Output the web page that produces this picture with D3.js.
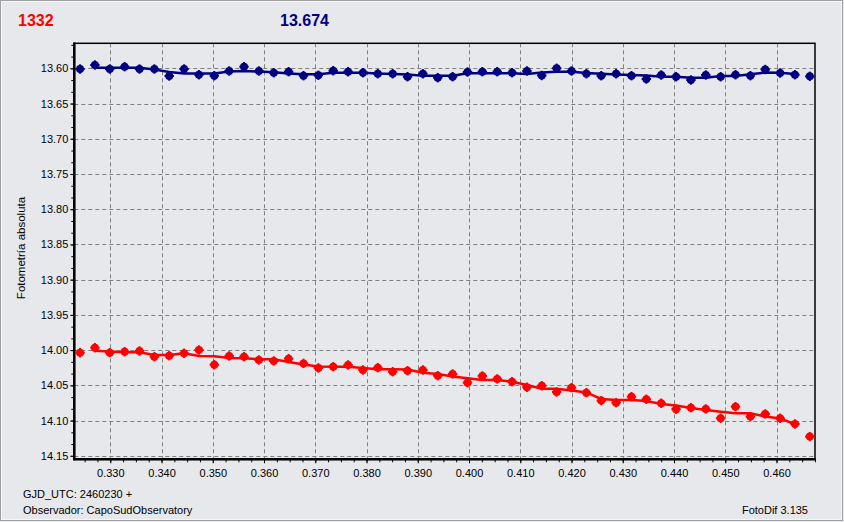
<!DOCTYPE html>
<html>
<head>
<meta charset="utf-8">
<script src="https://cdn.jsdelivr.net/npm/d3@7"></script>
<style>
  html, body { margin: 0; padding: 0; background: #e7e8eb; }
  svg { display: block; }
  text { font-family: "Liberation Sans", Arial, sans-serif; }
</style>
</head>
<body>
<svg id="chart" width="844" height="522"></svg>
<script>
// ---------- DATA ----------
const titleLeft = "1332";
const titleRight = "13.674";
const yAxisTitle = "Fotometría absoluta";
const footer1 = "GJD_UTC: 2460230 +";
const footer2 = "Observador: CapoSudObservatory";
const footer3 = "FotoDif 3.135";

const xTicks = [0.330, 0.340, 0.350, 0.360, 0.370, 0.380, 0.390, 0.400, 0.410, 0.420, 0.430, 0.440, 0.450, 0.460];
const yTicks = [13.60, 13.65, 13.70, 13.75, 13.80, 13.85, 13.90, 13.95, 14.00, 14.05, 14.10, 14.15];

const jd = [0.3241, 0.3270, 0.3299, 0.3328, 0.3357, 0.3386, 0.3415, 0.3444, 0.3473, 0.3503,
            0.3532, 0.3561, 0.3590, 0.3619, 0.3648, 0.3677, 0.3706, 0.3735, 0.3764, 0.3793,
            0.3822, 0.3851, 0.3880, 0.3910, 0.3939, 0.3968, 0.3997, 0.4026, 0.4055, 0.4084,
            0.4113, 0.4142, 0.4171, 0.4200, 0.4229, 0.4258, 0.4287, 0.4317, 0.4346, 0.4375,
            0.4404, 0.4433, 0.4462, 0.4491, 0.4520, 0.4549, 0.4578, 0.4607, 0.4636, 0.4665];

// comparison star (blue)
const compMag = [13.6010, 13.5953, 13.6010, 13.5977, 13.6010, 13.6010, 13.6109, 13.6010, 13.6091, 13.6105,
                 13.6038, 13.5977, 13.6038, 13.6062, 13.6048, 13.6105, 13.6099, 13.6034, 13.6048, 13.6062,
                 13.6077, 13.6077, 13.6119, 13.6077, 13.6133, 13.6119, 13.6053, 13.6048, 13.6048, 13.6062,
                 13.6038, 13.6102, 13.6000, 13.6038, 13.6077, 13.6105, 13.6077, 13.6105, 13.6152, 13.6095,
                 13.6119, 13.6166, 13.6095, 13.6119, 13.6091, 13.6105, 13.6017, 13.6067, 13.6091, 13.6114];
// smoothed comparison (index 1..48)
const compFit = [null, 13.5991, 13.5991, 13.5991, 13.5991, 13.6017, 13.6053, 13.6074, 13.6074, 13.6074,
                 13.6045, 13.6038, 13.6045, 13.6057, 13.6074, 13.6085, 13.6085, 13.6062, 13.6062, 13.6062,
                 13.6074, 13.6081, 13.6088, 13.6105, 13.6105, 13.6105, 13.6071, 13.6071, 13.6071, 13.6071,
                 13.6081, 13.6060, 13.6048, 13.6048, 13.6067, 13.6077, 13.6088, 13.6095, 13.6102, 13.6119,
                 13.6119, 13.6133, 13.6133, 13.6109, 13.6109, 13.6085, 13.6060, 13.6062, 13.6081, null];

// target (red)
const varMag = [14.0036, 13.9965, 14.0036, 14.0022, 14.0012, 14.0093, 14.0079, 14.0045, 13.9998, 14.0207,
                14.0083, 14.0093, 14.0140, 14.0154, 14.0121, 14.0189, 14.0253, 14.0235, 14.0211, 14.0282,
                14.0249, 14.0306, 14.0292, 14.0282, 14.0363, 14.0339, 14.0462, 14.0367, 14.0409, 14.0448,
                14.0527, 14.0506, 14.0594, 14.0533, 14.0604, 14.0717, 14.0746, 14.0661, 14.0698, 14.0754,
                14.0839, 14.0817, 14.0835, 14.0967, 14.0803, 14.0944, 14.0906, 14.0967, 14.1048, 14.1228];
const varFit = [null, 14.0008, 14.0019, 14.0031, 14.0031, 14.0069, 14.0069, 14.0045, 14.0083, 14.0087,
                14.0111, 14.0116, 14.0130, 14.0130, 14.0168, 14.0204, 14.0232, 14.0235, 14.0235, 14.0253,
                14.0272, 14.0272, 14.0275, 14.0320, 14.0339, 14.0374, 14.0400, 14.0424, 14.0424, 14.0448,
                14.0495, 14.0547, 14.0547, 14.0573, 14.0601, 14.0693, 14.0707, 14.0707, 14.0722, 14.0764,
                14.0786, 14.0821, 14.0849, 14.0874, 14.0896, 14.0896, 14.0942, 14.0970, 14.1052, null];

const colVar = "#ff0000";
const colComp = "#000080";

// ---------- LAYOUT ----------
const svg = d3.select("#chart");
const L = 74.3, R = 815, T = 43.3, B = 459.3;
const x = d3.scaleLinear().domain([0.32298, 0.46751]).range([L, R]);
const y = d3.scaleLinear().domain([13.5645, 14.155]).range([T, B]);

// window background + frame
svg.append("rect").attr("x", 0).attr("y", 0).attr("width", 844).attr("height", 522).attr("fill", "#e7e8eb");
svg.append("rect").attr("x", 0.5).attr("y", 0.5).attr("width", 842).attr("height", 520)
   .attr("fill", "none").attr("stroke", "#a0a0a0").attr("stroke-width", 1);
svg.append("rect").attr("x", 1.5).attr("y", 1.5).attr("width", 840).attr("height", 518)
   .attr("fill", "none").attr("stroke", "#ffffff").attr("stroke-width", 1).attr("opacity", 0.6);

// titles
svg.append("text").attr("x", 18).attr("y", 26).attr("font-size", 16).attr("font-weight", "bold")
   .attr("fill", colVar).text(titleLeft);
svg.append("text").attr("x", 280).attr("y", 26).attr("font-size", 16).attr("font-weight", "bold")
   .attr("fill", colComp).text(titleRight);

// grid
const grid = svg.append("g").attr("stroke", "#808080").attr("stroke-width", 1).attr("stroke-dasharray", "4,3");
grid.selectAll("line.v").data(xTicks).join("line")
    .attr("x1", d => Math.round(x(d)) + 0.5).attr("x2", d => Math.round(x(d)) + 0.5)
    .attr("y1", T).attr("y2", B);
grid.selectAll("line.h").data(yTicks).join("line")
    .attr("y1", d => Math.round(y(d)) + 0.5).attr("y2", d => Math.round(y(d)) + 0.5)
    .attr("x1", L).attr("x2", R);

// axes
const xMinor = d3.range(0.3250, 0.4676, 0.0025);
const yMinor = d3.range(13.5667, 14.155, 0.05 / 3);

const xAxisMinor = d3.axisBottom(x).tickValues(xMinor).tickSize(3).tickFormat("");
const xAxis = d3.axisBottom(x).tickValues(xTicks).tickSize(4).tickPadding(6).tickFormat(d => d.toFixed(3));
const yAxisMinor = d3.axisLeft(y).tickValues(yMinor).tickSize(3).tickFormat("");
const yAxis = d3.axisLeft(y).tickValues(yTicks).tickSize(4).tickPadding(2).tickFormat(d => d.toFixed(2));

function styleAxis(g) {
  g.select(".domain").remove();
  g.selectAll(".tick line").attr("stroke", "#000");
  g.selectAll(".tick text").attr("fill", "#000").attr("font-size", 11)
   .attr("font-family", "'Liberation Sans', Arial, sans-serif");
}
svg.append("g").attr("transform", `translate(0,${B})`).call(xAxisMinor).call(styleAxis);
svg.append("g").attr("transform", `translate(0,${B})`).call(xAxis).call(styleAxis);
svg.append("g").attr("transform", `translate(${L},0)`).call(yAxisMinor).call(styleAxis);
svg.append("g").attr("transform", `translate(${L},0)`).call(yAxis).call(styleAxis);

// plot border
svg.append("rect").attr("x", L).attr("y", T).attr("width", R - L).attr("height", B - T)
   .attr("fill", "none").attr("stroke", "#000").attr("stroke-width", 1.5);
svg.append("line").attr("x1", L).attr("x2", L).attr("y1", T - 0.75).attr("y2", B + 1)
   .attr("stroke", "#000").attr("stroke-width", 2.5);
svg.append("line").attr("x1", L - 1).attr("x2", R + 0.75).attr("y1", B).attr("y2", B)
   .attr("stroke", "#000").attr("stroke-width", 2.5);

// y axis title
svg.append("text").attr("transform", `translate(25,248) rotate(-90)`).attr("text-anchor", "middle")
   .attr("font-size", 11.5).attr("fill", "#000").text(yAxisTitle);

// fit lines
const line = d3.line().defined(d => d[1] != null).x(d => x(d[0])).y(d => y(d[1]));
const plot = svg.append("g");
plot.append("path").datum(jd.map((v, i) => [v, compFit[i]])).attr("d", line)
    .attr("fill", "none").attr("stroke", colComp).attr("stroke-width", 2.5);
plot.append("path").datum(jd.map((v, i) => [v, varFit[i]])).attr("d", line)
    .attr("fill", "none").attr("stroke", colVar).attr("stroke-width", 2.5);

// markers: round dot with small cross bumps
function drawPts(vals, col) {
  const g = plot.append("g").attr("fill", col);
  const pts = g.selectAll("g").data(jd.map((v, i) => [v, vals[i]])).join("g")
      .attr("transform", d => `translate(${x(d[0])},${y(d[1])})`);
  pts.append("circle").attr("r", 4);
  pts.append("rect").attr("x", -1).attr("y", -4.7).attr("width", 2).attr("height", 9.4);
  pts.append("rect").attr("x", -4.7).attr("y", -1).attr("width", 9.4).attr("height", 2);
}
drawPts(compMag, colComp);
drawPts(varMag, colVar);

// footer
svg.append("text").attr("x", 23).attr("y", 498).attr("font-size", 11).attr("fill", "#000").text(footer1);
svg.append("text").attr("x", 23).attr("y", 514).attr("font-size", 11).attr("fill", "#000").text(footer2);
svg.append("text").attr("x", 808).attr("y", 514).attr("text-anchor", "end").attr("font-size", 11).attr("fill", "#000").text(footer3);
</script>
</body>
</html>
